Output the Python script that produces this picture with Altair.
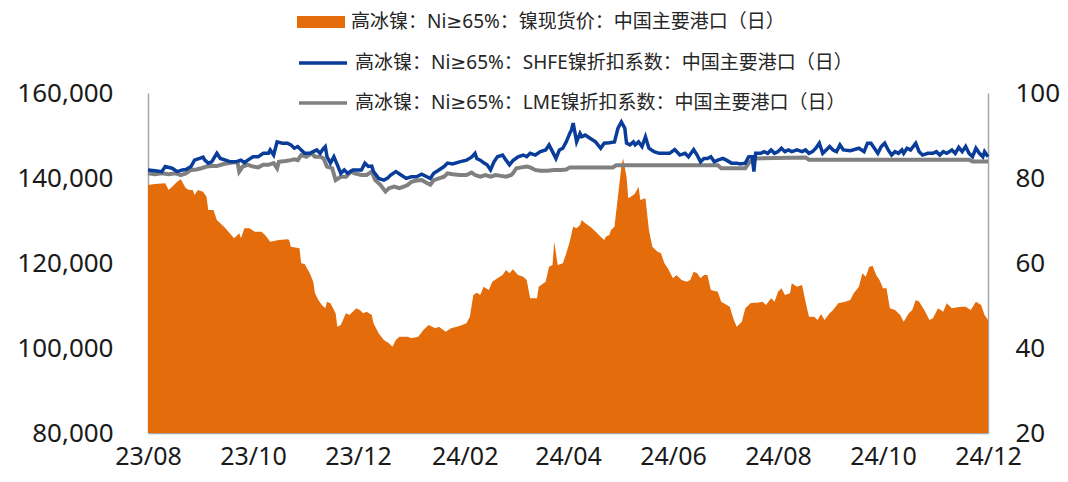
import altair as alt
import pandas as pd

SERIES = [
    "高冰镍：Ni≥65%：镍现货价：中国主要港口（日）",
    "高冰镍：Ni≥65%：SHFE镍折扣系数：中国主要港口（日）",
    "高冰镍：Ni≥65%：LME镍折扣系数：中国主要港口（日）",
]
COLORS = ["#E46C0A", "#0A3D99", "#808080"]

price_dates = [
    "2023-08-01", "2023-08-05", "2023-08-11", "2023-08-13", "2023-08-15", "2023-08-18", "2023-08-20",
    "2023-08-23", "2023-08-25", "2023-08-27", "2023-08-28", "2023-08-30", "2023-09-02", "2023-09-04",
    "2023-09-05", "2023-09-08", "2023-09-10", "2023-09-12", "2023-09-15", "2023-09-20", "2023-09-22",
    "2023-09-23", "2023-09-24", "2023-09-26", "2023-09-29", "2023-10-02", "2023-10-06", "2023-10-08",
    "2023-10-11", "2023-10-16", "2023-10-21", "2023-10-22", "2023-10-23", "2023-10-28", "2023-10-29",
    "2023-10-31", "2023-11-03", "2023-11-05", "2023-11-06", "2023-11-08", "2023-11-10", "2023-11-12",
    "2023-11-13", "2023-11-15", "2023-11-18", "2023-11-19", "2023-11-21", "2023-11-24", "2023-11-26",
    "2023-11-28", "2023-11-30", "2023-12-02", "2023-12-04", "2023-12-06", "2023-12-09", "2023-12-10",
    "2023-12-13", "2023-12-16", "2023-12-19", "2023-12-21", "2023-12-23", "2023-12-25", "2023-12-30",
    "2024-01-01", "2024-01-05", "2024-01-08", "2024-01-11", "2024-01-15", "2024-01-17", "2024-01-21",
    "2024-01-24", "2024-01-29", "2024-02-02", "2024-02-04", "2024-02-06", "2024-02-08", "2024-02-10",
    "2024-02-12", "2024-02-15", "2024-02-17", "2024-02-20", "2024-02-23", "2024-02-25", "2024-02-27",
    "2024-02-29", "2024-03-03", "2024-03-06", "2024-03-08", "2024-03-10", "2024-03-14", "2024-03-15",
    "2024-03-19", "2024-03-21", "2024-03-23", "2024-03-24", "2024-03-26", "2024-03-29", "2024-03-31",
    "2024-04-02", "2024-04-04", "2024-04-06", "2024-04-08", "2024-04-09", "2024-04-11", "2024-04-14",
    "2024-04-18", "2024-04-20", "2024-04-22", "2024-04-23", "2024-04-25", "2024-04-26", "2024-04-28",
    "2024-04-30", "2024-05-02", "2024-05-03", "2024-05-05", "2024-05-06", "2024-05-09", "2024-05-10",
    "2024-05-12", "2024-05-13", "2024-05-16", "2024-05-18", "2024-05-20", "2024-05-23", "2024-05-25",
    "2024-05-27", "2024-05-29", "2024-06-01", "2024-06-03", "2024-06-06", "2024-06-09", "2024-06-11",
    "2024-06-13", "2024-06-15", "2024-06-17", "2024-06-19", "2024-06-21", "2024-06-23", "2024-06-27",
    "2024-06-29", "2024-07-04", "2024-07-06", "2024-07-08", "2024-07-11", "2024-07-13", "2024-07-16",
    "2024-07-18", "2024-07-20", "2024-07-23", "2024-07-25", "2024-07-28", "2024-07-30", "2024-08-01",
    "2024-08-03", "2024-08-05", "2024-08-08", "2024-08-09", "2024-08-12", "2024-08-15", "2024-08-17",
    "2024-08-19", "2024-08-22", "2024-08-24", "2024-08-26", "2024-08-28", "2024-08-31", "2024-09-02",
    "2024-09-05", "2024-09-09", "2024-09-12", "2024-09-14", "2024-09-17", "2024-09-19", "2024-09-21",
    "2024-09-23", "2024-09-25", "2024-09-27", "2024-09-29", "2024-10-01", "2024-10-03", "2024-10-05",
    "2024-10-08", "2024-10-11", "2024-10-13", "2024-10-16", "2024-10-18", "2024-10-20", "2024-10-22",
    "2024-10-25", "2024-10-28", "2024-10-30", "2024-11-02", "2024-11-05", "2024-11-07", "2024-11-10",
    "2024-11-15", "2024-11-18", "2024-11-21", "2024-11-24", "2024-11-27", "2024-11-29", "2024-12-01",
]
price_values = [
    138350, 138590, 138750, 137180, 137960, 139130, 139700,
    137570, 137180, 137180, 136000, 137180, 136780, 135600,
    132470, 132470, 130120, 129340, 128160, 125810, 126590,
    126980, 125810, 128160, 128160, 127370, 127370, 126590,
    125020, 125410, 125570, 125410, 123840, 123450, 119920,
    119760, 117570, 115610, 112870, 111300, 110120, 109340,
    110900, 110510, 108160, 105020, 105410, 108160, 107760,
    108550, 109340, 108940, 108160, 108550, 107760, 105800,
    103450, 101880, 101100, 100310, 101880, 102660, 102660,
    102270, 102660, 104230, 105410, 104630, 105020, 103840,
    104630, 105180, 105800, 107370, 112470, 113010, 112470,
    114430, 113650, 115610, 116390, 117180, 118350, 117570,
    118510, 117180, 116780, 116000, 111690, 111690, 114430,
    115610, 119140, 119530, 125020, 119530, 119920, 122280,
    125020, 128550, 128160, 128940, 130120, 129340, 128550,
    126980, 126200, 125410, 126200, 126590, 127770, 128550,
    135600, 142660, 144630, 140310, 135220, 136000, 136400,
    137960, 134820, 135220, 127770, 123840, 122660, 122280,
    119920, 118750, 116390, 117180, 116000, 115610, 116000,
    117960, 117570, 116390, 117180, 117180, 113650, 113250,
    110900, 109720, 106990, 105020, 106200, 109340, 110510,
    110670, 110670, 110900, 110120, 111690, 110900, 113250,
    114040, 112470, 112870, 115220, 114430, 114820, 110900,
    107370, 107370, 106590, 108000, 106590, 108160, 108940,
    110510, 110900, 111300, 112870, 114430, 117570, 116780,
    119140, 119290, 117180, 116000, 114040, 114040, 109340,
    108940, 107760, 106200, 108160, 108940, 111300, 110900,
    108940, 106590, 106990, 109340, 108550, 110510, 109340,
    109720, 109720, 108940, 110900, 110120, 107760, 106590,
]

shfe_dates = [
    "2023-08-01", "2023-08-05", "2023-08-09", "2023-08-11", "2023-08-15", "2023-08-18", "2023-08-21",
    "2023-08-23", "2023-08-26", "2023-08-28", "2023-08-31", "2023-09-02", "2023-09-03", "2023-09-05",
    "2023-09-07", "2023-09-10", "2023-09-12", "2023-09-15", "2023-09-18", "2023-09-21", "2023-09-24",
    "2023-09-26", "2023-09-28", "2023-10-01", "2023-10-04", "2023-10-07", "2023-10-10", "2023-10-11",
    "2023-10-13", "2023-10-15", "2023-10-18", "2023-10-21", "2023-10-23", "2023-10-25", "2023-10-27",
    "2023-10-29", "2023-10-31", "2023-11-03", "2023-11-05", "2023-11-07", "2023-11-09", "2023-11-11",
    "2023-11-12", "2023-11-13", "2023-11-15", "2023-11-17", "2023-11-19", "2023-11-21", "2023-11-23",
    "2023-11-25", "2023-11-28", "2023-11-30", "2023-12-03", "2023-12-05", "2023-12-07", "2023-12-09",
    "2023-12-10", "2023-12-13", "2023-12-16", "2023-12-18", "2023-12-20", "2023-12-23", "2023-12-26",
    "2023-12-29", "2024-01-01", "2024-01-04", "2024-01-07", "2024-01-10", "2024-01-12", "2024-01-14",
    "2024-01-17", "2024-01-20", "2024-01-22", "2024-01-25", "2024-01-29", "2024-02-02", "2024-02-05",
    "2024-02-07", "2024-02-08", "2024-02-10", "2024-02-12", "2024-02-14", "2024-02-16", "2024-02-18",
    "2024-02-20", "2024-02-23", "2024-02-25", "2024-02-27", "2024-02-29", "2024-03-03", "2024-03-06",
    "2024-03-08", "2024-03-10", "2024-03-13", "2024-03-16", "2024-03-19", "2024-03-21", "2024-03-23",
    "2024-03-25", "2024-03-27", "2024-03-29", "2024-03-31", "2024-04-02", "2024-04-03", "2024-04-04",
    "2024-04-06", "2024-04-08", "2024-04-09", "2024-04-11", "2024-04-14", "2024-04-17", "2024-04-20",
    "2024-04-22", "2024-04-25", "2024-04-28", "2024-04-30", "2024-05-02", "2024-05-04", "2024-05-05",
    "2024-05-07", "2024-05-09", "2024-05-10", "2024-05-12", "2024-05-14", "2024-05-16", "2024-05-18",
    "2024-05-21", "2024-05-24", "2024-05-27", "2024-05-30", "2024-06-02", "2024-06-05", "2024-06-08",
    "2024-06-10", "2024-06-13", "2024-06-15", "2024-06-17", "2024-06-19", "2024-06-21", "2024-06-23",
    "2024-06-25", "2024-06-27", "2024-06-30", "2024-07-02", "2024-07-05", "2024-07-08", "2024-07-10",
    "2024-07-13", "2024-07-15", "2024-07-17", "2024-07-18", "2024-07-19", "2024-07-22", "2024-07-24",
    "2024-07-26", "2024-07-28", "2024-07-30", "2024-08-01", "2024-08-03", "2024-08-05", "2024-08-07",
    "2024-08-09", "2024-08-12", "2024-08-15", "2024-08-17", "2024-08-19", "2024-08-21", "2024-08-23",
    "2024-08-25", "2024-08-27", "2024-08-29", "2024-08-31", "2024-09-02", "2024-09-04", "2024-09-06",
    "2024-09-08", "2024-09-12", "2024-09-17", "2024-09-20", "2024-09-22", "2024-09-24", "2024-09-26",
    "2024-09-28", "2024-09-30", "2024-10-02", "2024-10-04", "2024-10-06", "2024-10-08", "2024-10-10",
    "2024-10-12", "2024-10-13", "2024-10-15", "2024-10-17", "2024-10-20", "2024-10-22", "2024-10-24",
    "2024-10-27", "2024-10-30", "2024-11-01", "2024-11-03", "2024-11-05", "2024-11-07", "2024-11-10",
    "2024-11-12", "2024-11-14", "2024-11-16", "2024-11-18", "2024-11-20", "2024-11-22", "2024-11-24",
    "2024-11-26", "2024-11-28", "2024-11-29", "2024-12-01",
]
shfe_values = [
    81.9, 81.7, 81.5, 82.7, 82.3, 81.5, 81.9,
    82.0, 82.7, 84.2, 84.6, 84.9, 84.2, 83.5,
    83.8, 85.8, 84.6, 84.2, 83.8, 83.8, 84.2,
    83.6, 84.2, 85.0, 85.0, 85.8, 85.8, 86.6,
    85.4, 88.5, 88.2, 88.2, 87.8, 87.0, 87.4,
    86.6, 85.8, 85.8, 86.2, 86.6, 85.8, 87.0,
    87.4, 85.0, 83.5, 85.0, 83.1, 81.1, 81.9,
    81.1, 81.9, 81.9, 81.9, 83.5, 82.7, 82.8,
    81.5, 79.9, 79.5, 79.9, 80.7, 81.5, 80.7,
    79.9, 80.3, 80.3, 80.9, 80.3, 79.9, 81.1,
    81.9, 82.7, 83.5, 83.3, 83.8, 84.2, 84.9,
    85.8, 84.6, 84.2, 83.6, 83.1, 81.9, 83.8,
    85.0, 85.4, 84.2, 83.1, 84.1, 85.0, 85.4,
    85.0, 85.8, 85.4, 86.2, 86.6, 87.8, 86.2,
    84.6, 86.6, 87.0, 88.5, 90.5, 91.3, 92.9,
    88.5, 90.5, 89.7, 90.1, 89.3, 88.5, 87.0,
    88.2, 88.3, 88.5, 91.7, 93.2, 91.7, 88.2,
    87.8, 88.5, 87.8, 88.5, 87.4, 89.7, 87.0,
    86.2, 85.8, 85.8, 85.8, 86.7, 85.4, 85.8,
    85.0, 86.7, 85.4, 83.8, 84.6, 84.6, 85.0,
    83.8, 84.2, 84.6, 84.2, 83.5, 83.5, 83.3,
    83.5, 85.0, 85.0, 81.5, 85.8, 85.8, 86.2,
    85.8, 86.6, 85.8, 86.2, 87.0, 86.2, 86.6,
    86.2, 86.6, 86.2, 86.6, 85.8, 86.2, 87.0,
    88.2, 85.8, 86.6, 87.4, 86.6, 86.2, 87.8,
    86.6, 86.4, 87.0, 86.2, 88.2, 88.2, 87.0,
    85.8, 87.4, 88.2, 86.6, 85.4, 86.2, 85.8,
    86.6, 85.8, 87.0, 86.6, 88.2, 86.2, 85.4,
    85.8, 85.8, 86.2, 85.4, 86.2, 85.8, 86.6,
    85.8, 87.2, 86.2, 87.4, 85.8, 85.0, 87.0,
    85.8, 85.0, 86.2, 85.0,
]

lme_dates = [
    "2023-08-01", "2023-08-05", "2023-08-09", "2023-08-13", "2023-08-17", "2023-08-20", "2023-08-23",
    "2023-08-26", "2023-08-29", "2023-09-01", "2023-09-04", "2023-09-07", "2023-09-10", "2023-09-14",
    "2023-09-18", "2023-09-22", "2023-09-23", "2023-09-25", "2023-09-28", "2023-10-01", "2023-10-04",
    "2023-10-07", "2023-10-10", "2023-10-13", "2023-10-15", "2023-10-16", "2023-10-20", "2023-10-23",
    "2023-10-25", "2023-10-27", "2023-10-29", "2023-11-01", "2023-11-04", "2023-11-06", "2023-11-09",
    "2023-11-11", "2023-11-13", "2023-11-16", "2023-11-18", "2023-11-21", "2023-11-24", "2023-11-27",
    "2023-11-29", "2023-12-03", "2023-12-06", "2023-12-09", "2023-12-11", "2023-12-14", "2023-12-17",
    "2023-12-19", "2023-12-22", "2023-12-25", "2023-12-28", "2023-12-30", "2024-01-01", "2024-01-04",
    "2024-01-07", "2024-01-10", "2024-01-12", "2024-01-14", "2024-01-17", "2024-01-20", "2024-01-22",
    "2024-01-25", "2024-01-29", "2024-02-02", "2024-02-05", "2024-02-07", "2024-02-10", "2024-02-13",
    "2024-02-16", "2024-02-19", "2024-02-22", "2024-02-25", "2024-02-28", "2024-02-29", "2024-03-02",
    "2024-03-05", "2024-03-08", "2024-03-10", "2024-03-13", "2024-03-16", "2024-03-20", "2024-03-24",
    "2024-03-28", "2024-03-31", "2024-04-02", "2024-04-27", "2024-04-29", "2024-06-27", "2024-06-29",
    "2024-07-13", "2024-07-15", "2024-07-18", "2024-08-17", "2024-08-19", "2024-11-20", "2024-11-22",
    "2024-12-01",
]
lme_values = [
    81.1, 80.9, 81.1, 80.9, 81.1, 80.7, 81.1,
    81.9, 82.0, 82.3, 82.7, 82.8, 82.8, 83.3,
    83.6, 83.8, 81.5, 82.7, 83.1, 82.7, 82.5,
    83.1, 83.1, 83.5, 82.3, 83.8, 84.0, 84.2,
    84.4, 84.2, 85.4, 85.0, 85.8, 85.0, 85.0,
    84.6, 82.7, 82.3, 79.5, 80.3, 80.3, 81.5,
    81.1, 80.7, 80.7, 81.5, 79.5, 78.4, 76.8,
    77.6, 78.0, 77.6, 78.0, 78.4, 79.1, 79.4,
    79.5, 78.8, 78.4, 79.5, 79.9, 80.3, 81.1,
    80.9, 80.7, 80.7, 81.3, 80.7, 80.3, 80.7,
    80.3, 80.7, 80.5, 80.3, 80.7, 81.1, 82.3,
    82.5, 82.7, 82.5, 81.9, 81.7, 81.7, 81.9,
    81.9, 82.0, 82.5, 82.5, 83.0, 83.0, 82.3,
    82.3, 83.5, 84.6, 84.8, 84.3, 84.3, 83.9,
    83.9,
]

x_ticks = [(2023, 8), (2023, 10), (2023, 12), (2024, 2), (2024, 4),
           (2024, 6), (2024, 8), (2024, 10), (2024, 12)]
left_ticks = [80000, 100000, 120000, 140000, 160000]
right_ticks = [20, 40, 60, 80, 100]

price_df = pd.DataFrame({"date": price_dates, "value": price_values, "series": SERIES[0]})
shfe_df = pd.DataFrame({"date": shfe_dates, "value": shfe_values, "series": SERIES[1]})
lme_df = pd.DataFrame({"date": lme_dates, "value": lme_values, "series": SERIES[2]})

def dt(y, m):
    return alt.DateTime(year=y, month=m, date=1, utc=True)

x_enc = alt.X(
    "date:T",
    scale=alt.Scale(type="utc", domain=[dt(2023, 8), dt(2024, 12)]),
    axis=alt.Axis(values=[dt(y, m) for y, m in x_ticks], format="%y/%m", title=None,
                  labelPadding=11, labelFontSize=25, labelFlush=False, labelOverlap=False),
)

LEGEND_FONT = "Noto Sans, DejaVu Sans, Noto Sans CJK SC"

def legend(y, sym, sw):
    return alt.Legend(title=None, orient="none", legendX=149, legendY=y,
                      symbolType=sym, symbolSize=2304, symbolStrokeWidth=sw,
                      labelFont=LEGEND_FONT, labelFontSize=19, labelColor="#262626",
                      labelOffset=6, padding=0, labelLimit=1000)

area = alt.Chart(price_df).mark_area(opacity=1, interpolate="linear").encode(
    x=x_enc,
    y=alt.Y("value:Q",
            scale=alt.Scale(domain=[80000, 160000], zero=False, nice=False),
            axis=alt.Axis(values=left_ticks, format=",.0f", title=None, orient="left",
                          labelPadding=35)),
    y2=alt.datum(80000),
    color=alt.Color("series:N", scale=alt.Scale(domain=[SERIES[0]], range=[COLORS[0]]),
                    legend=legend(-95, "M-1,-0.25L1,-0.25L1,0.25L-1,0.25Z", 0)),
)

right_y = alt.Y("value:Q",
                scale=alt.Scale(domain=[20, 100], zero=False, nice=False),
                axis=alt.Axis(values=right_ticks, title=None, orient="right", labelPadding=27))

lme = alt.Chart(lme_df).mark_line(strokeWidth=4, interpolate="linear").encode(
    x=x_enc, y=right_y,
    color=alt.Color("series:N", scale=alt.Scale(domain=[SERIES[2]], range=[COLORS[2]]),
                    legend=legend(-16, "stroke", 3.5)),
)
shfe = alt.Chart(shfe_df).mark_line(strokeWidth=3.5, interpolate="linear").encode(
    x=x_enc, y=right_y,
    color=alt.Color("series:N", scale=alt.Scale(domain=[SERIES[1]], range=[COLORS[1]]),
                    legend=legend(-56, "stroke", 3.5)),
)

lines = alt.layer(lme, shfe).resolve_scale(color="independent")

chart = alt.layer(area, lines).resolve_scale(y="independent", color="independent").properties(
    width=840, height=340,
    autosize=alt.AutoSizeParams(type="none"),
    padding={"left": 140, "top": 85, "right": 72, "bottom": 41},
).configure_view(stroke=None).configure_axis(
    grid=False, ticks=False, domainColor="#A6A6A6", domainWidth=1.5,
    labelFont="Noto Sans", labelFontSize=26, labelColor="#1a1a1a",
)

chart.save("out.html", embed_options={"renderer": "svg", "actions": False})
